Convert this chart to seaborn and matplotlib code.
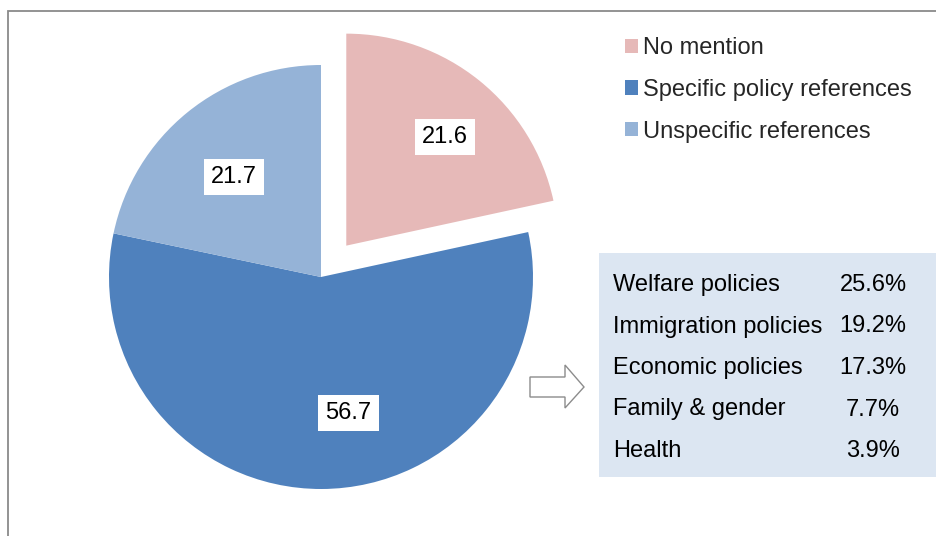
import matplotlib
matplotlib.use("Agg")
import matplotlib.pyplot as plt
from matplotlib.patches import Rectangle, Polygon
import seaborn as sns

# Share of statements by type of policy reference
categories = ["No mention", "Specific policy references", "Unspecific references"]
shares = [21.6, 56.7, 21.7]

# Breakdown of the specific policy references
policy_areas = ["Welfare policies", "Immigration policies", "Economic policies",
                "Family & gender", "Health"]
policy_shares = [25.6, 19.2, 17.3, 7.7, 3.9]

sns.set_theme(style="white")
plt.rcParams["font.family"] = ["Liberation Sans", "DejaVu Sans"]

colors = ["#E6B9B8", "#4F81BD", "#95B3D7"]
W, H = 936, 536
FS = 17
fig = plt.figure(figsize=(W / 100, H / 100), dpi=100)

# Overlay in pixel coordinates for the frame, arrow and breakdown box
ov = fig.add_axes([0, 0, 1, 1])
ov.set_xlim(0, W)
ov.set_ylim(H, 0)
ov.axis("off")
ov.patch.set_alpha(0)

# Pie axes: radius R px, centred at (cx, cy) px from the top-left corner
R = 212
cx, cy = 321, 277
ax = fig.add_axes([0, 0, 2 * cx / W, 2 * (H - cy) / H])
wedges, texts, autotexts = ax.pie(
    shares, colors=colors, startangle=90, counterclock=False,
    explode=[0.19, 0, 0], autopct="%.1f", pctdistance=0.66,
    wedgeprops=dict(linewidth=0),
    textprops=dict(fontsize=FS, color="black"),
)
ax.set_xlim(-cx / R, cx / R)
ax.set_ylim(-(H - cy) / R, (H - cy) / R)
ax.set_aspect("auto")
ax.axis("off")

# Small pixel nudges for the value labels (dx right, dy down)
label_nudge = [(11, 0), (27, -4), (1, 9)]
for t, (dx, dy) in zip(autotexts, label_nudge):
    x, y = t.get_position()
    t.set_position((x + dx / R, y - dy / R))
    t.set_bbox(dict(boxstyle="square,pad=0.3", fc="white", ec="none"))

# Legend
fig.legend(wedges, categories, loc="upper left",
           bbox_to_anchor=(625 / W, 1 - 37 / H), frameon=False,
           fontsize=FS, handlelength=0.55, handleheight=0.55,
           handletextpad=0.2, labelspacing=0.84, borderaxespad=0,
           borderpad=0)

# Frame around the chart area
ov.plot([7.5, 7.5, W], [H, 11, 11], color="#8a8a8a", lw=1.3,
        solid_joinstyle="miter")

# Outline arrow pointing to the breakdown
arrow = Polygon([(530, 377), (565, 377), (565, 365), (584, 387),
                 (565, 408), (565, 397), (530, 397)],
                closed=True, fc="white", ec="#8c8c8c", lw=1.0)
ov.add_patch(arrow)

# Breakdown box
ov.add_patch(Rectangle((599, 253), W - 599, 224, fc="#DCE6F2", ec="none"))
for i, (name, val) in enumerate(zip(policy_areas, policy_shares)):
    yb = 291 + i * 41.5
    ov.text(613, yb, name, ha="left", va="baseline", fontsize=FS, color="black")
    ov.text(873, yb, f"{val:.1f}%", ha="center", va="baseline", fontsize=FS,
            color="black")

fig.savefig("out.png", dpi=100, facecolor="white")
